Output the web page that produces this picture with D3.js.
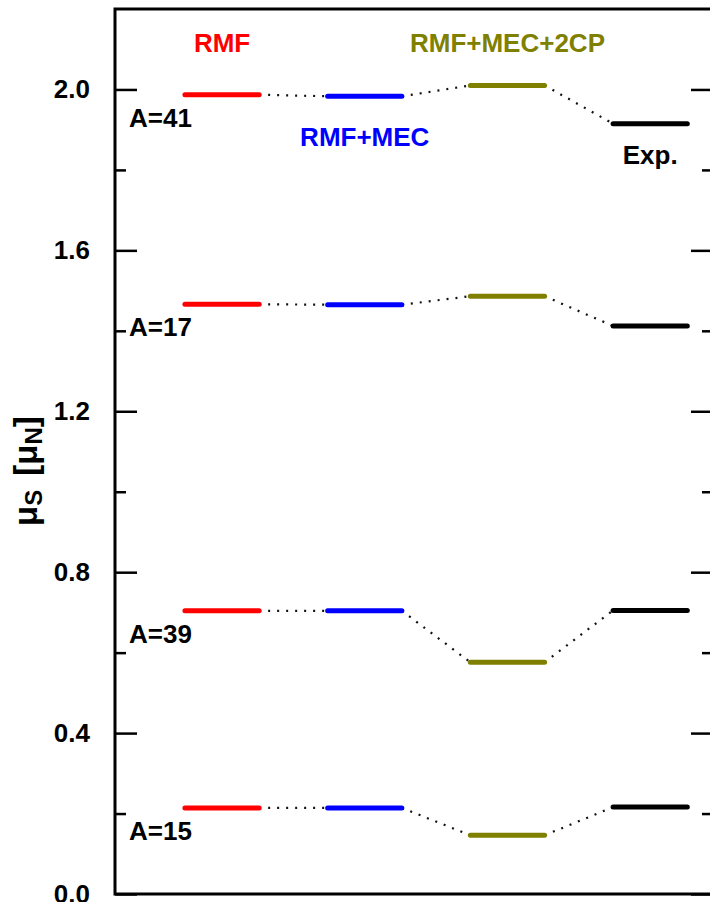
<!DOCTYPE html>
<html>
<head>
<meta charset="utf-8">
<script src="https://cdn.jsdelivr.net/npm/d3@7"></script>
<style>
  html, body { margin: 0; padding: 0; background: #fff; }
  svg { display: block; }
  text { font-family: "Liberation Sans", Arial, sans-serif; font-weight: bold; }
</style>
</head>
<body>
<svg id="chart" width="710" height="902"></svg>
<script>
// Isoscalar magnetic moments of the four nuclei, per model
const models = ["RMF", "RMF+MEC", "RMF+MEC+2CP", "Exp."];
const nuclei = ["A=41", "A=17", "A=39", "A=15"];
const rmf       = [1.987, 1.466, 0.704, 0.214];
const rmfMec    = [1.983, 1.465, 0.704, 0.214];
const rmfMec2cp = [2.010, 1.486, 0.576, 0.146];
const expt      = [1.915, 1.412, 0.705, 0.216];
const majorTicks = [0.0, 0.4, 0.8, 1.2, 1.6, 2.0];
const minorTicks = [0.2, 0.6, 1.0, 1.4, 1.8];

const seriesList = [rmf, rmfMec, rmfMec2cp, expt];
const colors = ["#ff0000", "#0000ff", "#808000", "#000000"];

const svg = d3.select("#chart");
const plotLeft = 115, plotRight = 713, plotTop = 9, plotBottom = 894;

const x = d3.scaleLinear().domain([0.25, 4.44]).range([plotLeft, plotRight]);
const y = d3.scaleLinear().domain([0, 2.2]).range([plotBottom, plotTop]);
const half = 0.26; // half width of a level bar, in model units

// frame
svg.append("rect")
  .attr("x", plotLeft).attr("y", plotTop)
  .attr("width", plotRight - plotLeft).attr("height", plotBottom - plotTop)
  .attr("fill", "none").attr("stroke", "#000").attr("stroke-width", 3);

// left axis: major ticks with labels, minor ticks
const yAxisL = d3.axisLeft(y).tickValues(majorTicks).tickSize(-22).tickPadding(25)
  .tickFormat(d3.format(".1f"));
const gL = svg.append("g").attr("transform", `translate(${plotLeft},0)`).call(yAxisL);
gL.select(".domain").remove();
gL.selectAll(".tick line").attr("stroke", "#000").attr("stroke-width", 2.5);
gL.selectAll(".tick text").attr("font-size", 26).attr("fill", "#000")
  .attr("font-family", '"Liberation Sans", Arial, sans-serif').attr("font-weight", "bold");

const gLm = svg.append("g").attr("transform", `translate(${plotLeft},0)`)
  .call(d3.axisLeft(y).tickValues(minorTicks).tickSize(-11).tickFormat(""));
gLm.select(".domain").remove();
gLm.selectAll(".tick line").attr("stroke", "#000").attr("stroke-width", 2.5);

// right axis: ticks only
const gR = svg.append("g").attr("transform", `translate(${plotRight},0)`)
  .call(d3.axisRight(y).tickValues(majorTicks).tickSize(-22).tickFormat(""));
gR.select(".domain").remove();
gR.selectAll(".tick line").attr("stroke", "#000").attr("stroke-width", 2.5);
const gRm = svg.append("g").attr("transform", `translate(${plotRight},0)`)
  .call(d3.axisRight(y).tickValues(minorTicks).tickSize(-11).tickFormat(""));
gRm.select(".domain").remove();
gRm.selectAll(".tick line").attr("stroke", "#000").attr("stroke-width", 2.5);

// dotted connectors between neighbouring models
const links = [];
nuclei.forEach((n, i) => {
  for (let m = 0; m < models.length - 1; m++) {
    links.push({ x1: m + 1 + half, v1: seriesList[m][i], x2: m + 2 - half, v2: seriesList[m + 1][i] });
  }
});
svg.append("g").selectAll("line").data(links).join("line")
  .attr("x1", d => x(d.x1)).attr("y1", d => y(d.v1))
  .attr("x2", d => x(d.x2)).attr("y2", d => y(d.v2))
  .attr("stroke", "#111").attr("stroke-width", 2.2)
  .attr("stroke-dasharray", "2,7").attr("stroke-linecap", "butt");

// level bars
const levels = [];
seriesList.forEach((s, m) => s.forEach((v, i) => levels.push({ m, v })));
svg.append("g").selectAll("line").data(levels).join("line")
  .attr("x1", d => x(d.m + 1 - half)).attr("x2", d => x(d.m + 1 + half))
  .attr("y1", d => y(d.v)).attr("y2", d => y(d.v))
  .attr("stroke", d => colors[d.m]).attr("stroke-width", 5).attr("stroke-linecap", "round");

// nucleus labels under the RMF levels
svg.append("g").selectAll("text").data(nuclei).join("text")
  .attr("x", 129).attr("y", (d, i) => y(rmf[i]) + 32)
  .attr("font-size", 26).attr("fill", "#000").text(d => d);

// model labels, placed around the uppermost (A=41) levels
const topIdx = 0;
const modelLabelOffsets = [-43, 50, -33, 40];
svg.append("g").selectAll("text").data(models).join("text")
  .attr("x", (d, m) => x(m + 1))
  .attr("y", (d, m) => y(seriesList[m][topIdx]) + modelLabelOffsets[m])
  .attr("text-anchor", "middle").attr("font-size", 26)
  .attr("fill", (d, m) => colors[m]).text(d => d);

// y-axis title: μS [μN]
const title = svg.append("text")
  .attr("transform", "translate(37,471) rotate(-90)")
  .attr("text-anchor", "middle").attr("font-size", 33).attr("fill", "#000");
title.append("tspan").text("μ");
title.append("tspan").attr("dy", 5).attr("font-size", 24).text("S");
title.append("tspan").attr("dy", -5).attr("dx", 14).text("[μ");
title.append("tspan").attr("dy", 5).attr("font-size", 24).text("N");
title.append("tspan").attr("dy", -5).text("]");
</script>
</body>
</html>
